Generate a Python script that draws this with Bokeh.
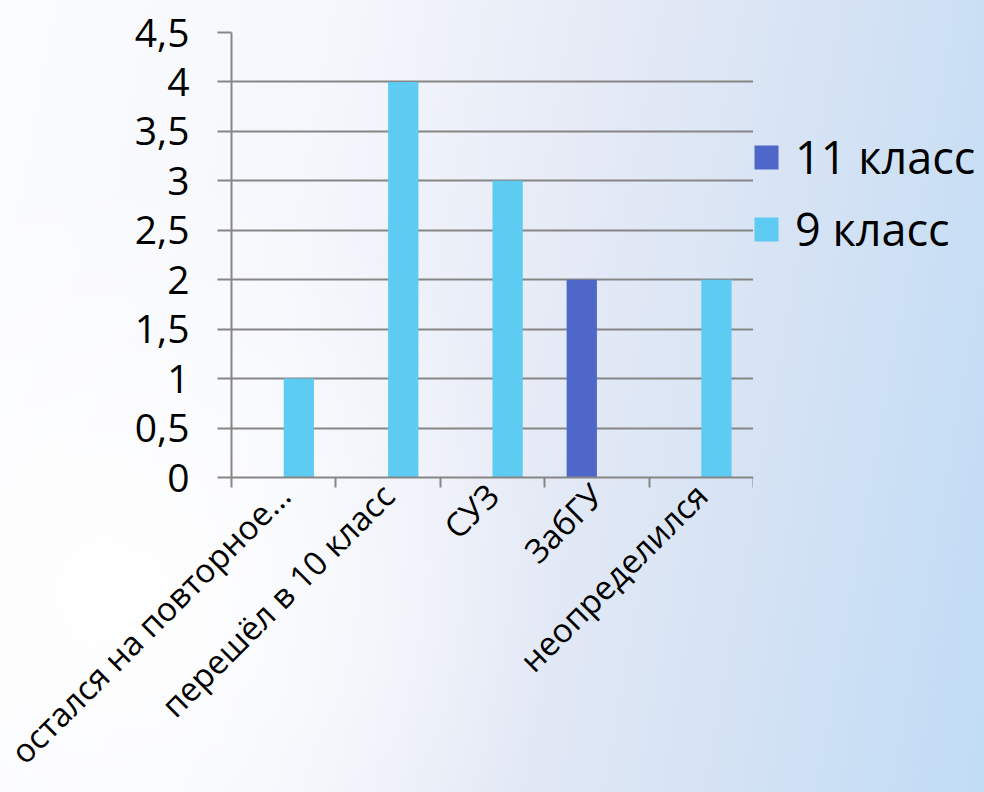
from math import pi
from bokeh.plotting import figure
from bokeh.layouts import row
from bokeh.models import FixedTicker, Range1d, Legend, LegendItem, ColumnDataSource
from bokeh.transform import dodge
from bokeh.embed import file_html
from bokeh.resources import INLINE

categories = ["остался на повторное…", "перешёл в 10 класс", "СУЗ", "ЗабГУ", "неопределился"]
series_names = ["11 класс", "9 класс"]
values_11 = [0, 0, 0, 2, 0]
values_9 = [1, 4, 3, 0, 2]
y_ticks = [0, 0.5, 1, 1.5, 2, 2.5, 3, 3.5, 4, 4.5]
y_tick_labels = ["0", "0,5", "1", "1,5", "2", "2,5", "3", "3,5", "4", "4,5"]

colors = ["#4f67c9", "#5ecbf3"]
grid_color = "#868686"
font = "Open Sans"

x_centers = [float(i) + 0.5 for i in range(len(categories))]
x_bounds = [float(i) for i in range(len(categories) + 1)]

src = ColumnDataSource(dict(x=x_centers, cat=categories, v11=values_11, v9=values_9))

bg = ("radial-gradient(ellipse 45% 55% at 12% 75%, rgba(255,255,255,0.95), rgba(255,255,255,0)), "
      "linear-gradient(100deg, #fbfcfe 0%, #f5f7fc 30%, #e5eaf6 55%, #d3e2f4 78%, #c0dcf5 100%)")

p = figure(width=753, height=792,
           x_range=Range1d(0, len(categories)), y_range=Range1d(0, 4.5),
           output_backend="svg", toolbar_location=None,
           min_border_left=231, min_border_right=0,
           min_border_top=32, min_border_bottom=312,
           border_fill_color=None, background_fill_color=None,
           outline_line_color=None)

r11 = p.vbar(x=dodge("x", -0.145, range=p.x_range), top="v11", width=0.29,
             source=src, fill_color=colors[0], line_color=None)
r9 = p.vbar(x=dodge("x", 0.145, range=p.x_range), top="v9", width=0.29,
            source=src, fill_color=colors[1], line_color=None)

p.xgrid.visible = False
p.ygrid.ticker = FixedTicker(ticks=y_ticks)
p.ygrid.grid_line_color = grid_color
p.ygrid.grid_line_width = 2

ya = p.yaxis[0]
ya.ticker = FixedTicker(ticks=y_ticks)
ya.major_label_overrides = dict(zip(y_ticks, y_tick_labels))
ya.axis_line_color = grid_color
ya.axis_line_width = 2
ya.major_tick_out = 14
ya.major_tick_in = 0
ya.major_tick_line_color = grid_color
ya.major_tick_line_width = 2
ya.minor_tick_line_color = None
ya.major_label_text_font = font
ya.major_label_text_font_size = "39px"
ya.major_label_text_color = "black"
ya.major_label_standoff = 28

xa = p.xaxis[0]
xa.ticker = FixedTicker(ticks=x_centers, minor_ticks=x_bounds)
xa.major_label_overrides = dict(zip(x_centers, categories))
xa.major_label_orientation = pi / 4
xa.axis_line_color = grid_color
xa.axis_line_width = 2
xa.major_tick_line_color = None
xa.minor_tick_line_color = grid_color
xa.minor_tick_line_width = 2
xa.minor_tick_out = 10
xa.minor_tick_in = 0
xa.major_label_text_font = font
xa.major_label_text_font_size = "33px"
xa.major_label_text_color = "black"
xa.major_label_standoff = 2

# legend panel to the right of the chart (its own renderers stay out of view)
pl = figure(width=231, height=792,
            x_range=Range1d(100, 101), y_range=Range1d(100, 101),
            output_backend="svg", toolbar_location=None,
            x_axis_location=None, y_axis_location=None,
            min_border=0, border_fill_color=None, background_fill_color=None,
            outline_line_color=None)
pl.xgrid.visible = False
pl.ygrid.visible = False
l11 = pl.vbar(x="x", top="v11", width=0.29, source=src, fill_color=colors[0], line_color=None)
l9 = pl.vbar(x="x", top="v9", width=0.29, source=src, fill_color=colors[1], line_color=None)

legend = Legend(items=[LegendItem(label=series_names[0], renderers=[l11]),
                       LegendItem(label=series_names[1], renderers=[l9])],
                location=(-2, 218),
                border_line_color=None, background_fill_alpha=0,
                padding=0, margin=0, glyph_width=30, glyph_height=30,
                label_standoff=14, label_height=48, spacing=11,
                label_text_font=font, label_text_font_size="45px",
                label_text_color="black")
pl.add_layout(legend)

layout = row(p, pl, spacing=0, styles={"background": bg})

open("out.html", "w").write(file_html(layout, INLINE))
